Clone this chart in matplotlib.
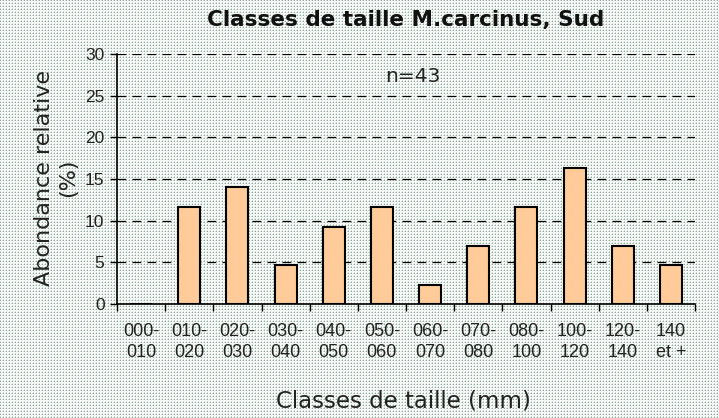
import numpy as np
import matplotlib
matplotlib.use("Agg")
import matplotlib.pyplot as plt

categories = ["000-\n010", "010-\n020", "020-\n030", "030-\n040", "040-\n050",
              "050-\n060", "060-\n070", "070-\n080", "080-\n100", "100-\n120",
              "120-\n140", "140\net +"]
values = [0.0, 11.6, 14.0, 4.65, 9.3, 11.6, 2.3, 7.0, 11.6, 16.3, 7.0, 4.65]
yticks = [0, 5, 10, 15, 20, 25, 30]

W, H = 719, 418
fig = plt.figure(figsize=(W / 100, H / 100), dpi=100)

# patterned background
tile = np.ones((3, 3, 3))
tile[0, 0] = [0.55, 0.66, 0.59]
tile[0, 2] = [0.80, 0.86, 0.82]
tile[2, 0] = [0.80, 0.86, 0.82]
tile[1, 1] = [0.90, 0.93, 0.91]
bg = np.tile(tile, (H // 3 + 1, W // 3 + 1, 1))[:H, :W]
fig.figimage(bg, 0, 0, zorder=-10)

ax = fig.add_axes([117 / W, 1 - 304 / H, (695 - 117) / W, (304 - 54) / H])
ax.set_zorder(2)
ax.patch.set_alpha(0)

x = np.arange(len(values))
ax.bar(x, values, width=0.46, color="#ffcc99", edgecolor="black", linewidth=1.5, zorder=3)

ax.set_xlim(-0.5, len(values) - 0.5)
ax.set_ylim(0, 30)
ax.set_yticks(yticks)
ax.set_yticklabels([str(t) for t in yticks], family="Liberation Sans", fontsize=12.5, color="#222222")
for t in yticks[1:]:
    ax.axhline(t, color="black", lw=0.9, ls=(0, (7, 5)), zorder=1)

ax.set_xticks(x)
ax.set_xticklabels(categories, family="Liberation Sans", fontsize=13, color="#222222", linespacing=1.3)
ax.set_xticks(np.arange(-0.5, len(values), 1), minor=True)
ax.tick_params(axis="x", which="major", length=0, pad=14)
ax.tick_params(axis="x", which="minor", length=5, width=1, direction="out")
ax.tick_params(axis="y", length=5, width=1, direction="out", pad=4)

for s in ["top", "right"]:
    ax.spines[s].set_visible(False)
for s in ["left", "bottom"]:
    ax.spines[s].set_linewidth(1.2)

ax.text(5.65, 27.3, "n=43", ha="center", va="center", fontsize=14.5, family="DejaVu Sans", color="#222222")

fig.text(406 / W, 1 - 20 / H, "Classes de taille M.carcinus, Sud", ha="center", va="center",
         fontsize=15.5, fontweight="bold", family="DejaVu Sans", color="#111111")
fig.text(56 / W, 1 - 178 / H, "Abondance relative\n(%)", ha="center", va="center", rotation=90,
         fontsize=16, family="DejaVu Sans", color="#222222", linespacing=1.3)
fig.text(403 / W, 1 - 401 / H, "Classes de taille (mm)", ha="center", va="center",
         fontsize=16.5, family="DejaVu Sans", color="#222222")

fig.savefig("out.png", dpi=100)
